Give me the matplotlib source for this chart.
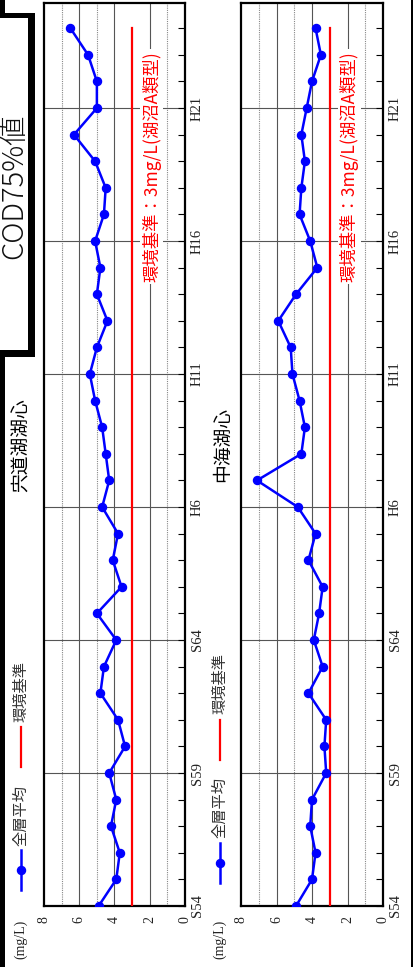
import matplotlib
matplotlib.use("Agg")
import matplotlib.pyplot as plt
from matplotlib.lines import Line2D
from matplotlib.patches import Rectangle
from matplotlib.ticker import MultipleLocator

plt.rcParams['font.family'] = ['Noto Sans CJK JP', 'DejaVu Sans']

# ---- data -------------------------------------------------------------
years = list(range(1979, 2013))
major_years = [1979, 1984, 1989, 1994, 1999, 2004, 2009]
major_labels = ["S54", "S59", "S64", "H6", "H11", "H16", "H21"]
value_ticks = [0, 2, 4, 6, 8]

shinjiko = [4.9, 3.9, 3.7, 4.2, 3.9, 4.3, 3.4, 3.8, 4.8, 4.6,
            3.9, 5.0, 3.6, 4.1, 3.8, 4.7, 4.3, 4.5, 4.7, 5.1,
            5.4, 5.0, 4.4, 5.0, 4.8, 5.1, 4.6, 4.5, 5.1, 6.3,
            5.0, 5.0, 5.5, 6.5]
nakaumi = [4.9, 4.0, 3.8, 4.1, 4.0, 3.2, 3.3, 3.2, 4.2, 3.4,
           3.9, 3.6, 3.4, 4.2, 3.8, 4.8, 7.1, 4.6, 4.4, 4.7,
           5.1, 5.2, 5.9, 4.9, 3.7, 4.1, 4.7, 4.6, 4.4, 4.6,
           4.3, 4.0, 3.5, 3.8]
standard = 3.0

titles = ["宍道湖湖心", "中海湖心"]
series_label = "全層平均"
standard_label = "環境基準"
standard_note = "環境基準：3mg/L(湖沼A類型)"
unit_label = "(mg/L)"
header = "COD75%値"

# ---- layout helpers (pixel -> figure fraction) -------------------------
W, H = 414, 967
fig = plt.figure(figsize=(W / 100, H / 100), dpi=100)


def fx(x):
    return x / W


def fy(y):
    return 1 - y / H


def rect(x0, y0, x1, y1):
    return [fx(x0), fy(y1), (x1 - x0) / W, (y1 - y0) / H]


SERIF = "Liberation Serif"
CJK = ['Noto Sans CJK JP', 'DejaVu Sans']
BLUE = "#0000ff"
RED = "#ff0000"


def draw_panel(ax, values, title, title_xy, legend_x, legend_y):
    ax.set_xlim(8, 0)
    ax.set_ylim(1979, 2012.95)

    # value grid: solid on even, dotted on odd
    for v in [2, 4, 6]:
        ax.axvline(v, color="#555555", lw=0.8, zorder=1)
    for v in [1, 5, 7]:
        ax.axvline(v, color="#888888", lw=0.8, ls=(0, (1, 1)), zorder=1)
    for yr in major_years[1:]:
        ax.axhline(yr, color="#555555", lw=0.8, zorder=1)

    ax.plot([standard] * len(years), years, color=RED, lw=1.6, zorder=3)
    ax.plot(values, years, color=BLUE, lw=1.8, marker="o", ms=5.8, zorder=4)

    ax.text(1.9, 2006.8, standard_note, rotation=90, ha="center", va="center",
            color=RED, fontsize=12.5, family=CJK, zorder=5,
            bbox=dict(facecolor="white", edgecolor="none", pad=1.5))

    ax.set_xticks(value_ticks)
    ax.set_xticklabels([str(v) for v in value_ticks], rotation=90,
                       family=SERIF, fontsize=10, color="#222222")
    ax.tick_params(axis="x", length=0, pad=7)

    ax.yaxis.tick_right()
    ax.set_yticks(major_years)
    ax.set_yticklabels(major_labels, rotation=90, va="center",
                       family=SERIF, fontsize=10.5, color="#222222")
    ax.yaxis.set_minor_locator(MultipleLocator(1))
    ax.tick_params(axis="y", which="both", direction="in", length=5,
                   width=0.8, pad=4, left=False, right=True)

    for s in ax.spines.values():
        s.set_linewidth(1.6)
        s.set_color("black")

    # title
    fig.text(fx(title_xy[0]), fy(title_xy[1]), title, rotation=90,
             ha="center", va="center", fontsize=13.5, family=CJK)

    # legend / unit
    fig.text(fx(legend_x), fy(939), unit_label, rotation=90, ha="center",
             va="center", family=SERIF, fontsize=10, color="#222222")
    y0 = legend_y
    fig.add_artist(Line2D([fx(legend_x)] * 2, [fy(y0 + 20), fy(y0 - 20)],
                          color=BLUE, lw=1.8, transform=fig.transFigure))
    fig.add_artist(Line2D([fx(legend_x)], [fy(y0)], color=BLUE, marker="o",
                          ms=5.8, transform=fig.transFigure))
    fig.text(fx(legend_x), fy(y0 - 55), series_label, rotation=90,
             ha="center", va="center", fontsize=11, family=CJK,
             color="#333333")
    fig.add_artist(Line2D([fx(legend_x)] * 2, [fy(y0 - 103), fy(y0 - 143)],
                          color=RED, lw=1.6, transform=fig.transFigure))
    fig.text(fx(legend_x), fy(y0 - 179), standard_label, rotation=90,
             ha="center", va="center", fontsize=11, family=CJK,
             color="#333333")


ax1 = fig.add_axes(rect(44, 3, 185, 906))
ax2 = fig.add_axes(rect(241, 3, 383, 906))
draw_panel(ax1, shinjiko, titles[0], (21, 445), 21, 870)
draw_panel(ax2, nakaumi, titles[1], (222, 445), 220, 863)

# header box and frame edges
for (x0, y0, x1, y1) in [(0, 13, 35, 18), (28, 13, 35, 357), (0, 350, 35, 357),
                         (0, 357, 5, 967), (0, 0, 5, 13), (411, 0, 414, 967)]:
    fig.add_artist(Rectangle((fx(x0), fy(y1)), (x1 - x0) / W, (y1 - y0) / H,
                             transform=fig.transFigure, color="black", lw=0))

fig.text(fx(14), fy(186), header, rotation=90,
         ha="center", va="center", fontsize=21, family=CJK,
         fontweight="light", color="#111111")

fig.savefig("out.png", dpi=100)
